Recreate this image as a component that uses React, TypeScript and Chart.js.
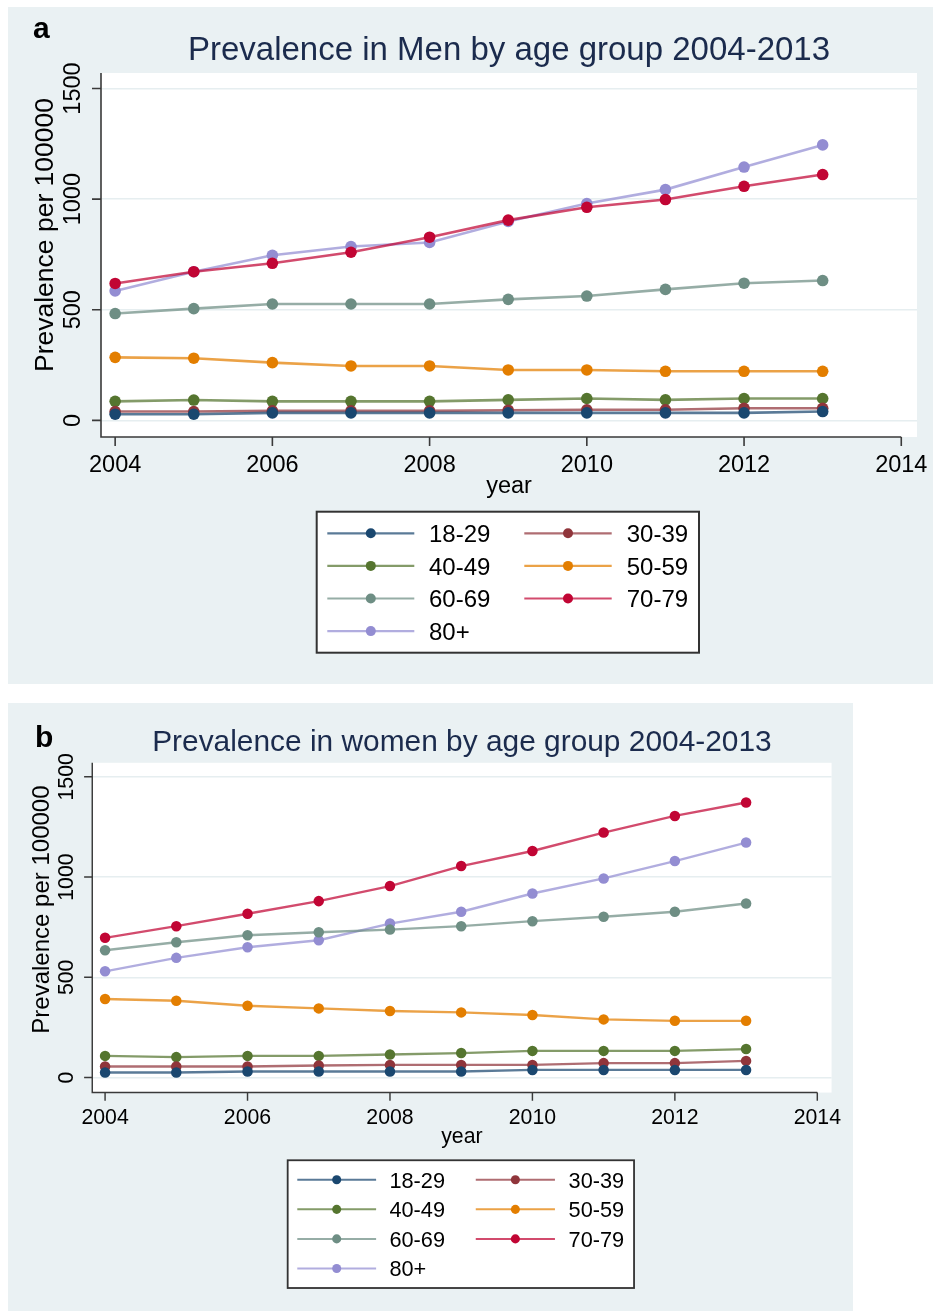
import React, { useEffect, useRef } from 'react';
import { Chart, registerables } from 'chart.js';

Chart.register(...registerables);

// ---------------- data ----------------
const years = [2004, 2005, 2006, 2007, 2008, 2009, 2010, 2011, 2012, 2013];
const ageGroups = ['18-29', '30-39', '40-49', '50-59', '60-69', '70-79', '80+'];
const seriesColors = ['#1a476f', '#90353b', '#55752f', '#e37e00', '#6e8e84', '#c10534', '#938dd2'];

const men18_29 = [28, 28, 34, 34, 34, 34, 34, 34, 34, 40];
const men30_39 = [40, 40, 43, 43, 43, 46, 48, 48, 55, 55];
const men40_49 = [86, 92, 86, 86, 86, 93, 99, 93, 99, 99];
const men50_59 = [285, 281, 261, 246, 246, 228, 228, 222, 222, 222];
const men60_69 = [483, 505, 526, 526, 526, 547, 562, 592, 620, 632];
const men70_79 = [619, 672, 710, 760, 828, 905, 963, 998, 1058, 1111];
const men80plus = [585, 672, 746, 786, 804, 899, 980, 1043, 1145, 1245];

const women18_29 = [25, 25, 30, 30, 30, 30, 38, 38, 38, 38];
const women30_39 = [55, 55, 55, 60, 63, 63, 63, 72, 72, 83];
const women40_49 = [108, 102, 108, 108, 115, 122, 133, 133, 133, 142];
const women50_59 = [392, 383, 358, 345, 332, 325, 312, 290, 283, 283];
const women60_69 = [635, 675, 710, 725, 738, 755, 780, 802, 827, 868];
const women70_79 = [697, 755, 817, 880, 955, 1055, 1130, 1222, 1305, 1372];
const women80plus = [530, 597, 650, 685, 768, 827, 918, 993, 1080, 1172];

const xTickValues = [2004, 2006, 2008, 2010, 2012, 2014];
const xTickLabels = ['2004', '2006', '2008', '2010', '2012', '2014'];
const yTickValues = [0, 500, 1000, 1500];
const yTickLabels = ['0', '500', '1000', '1500'];

const menSeries = [men18_29, men30_39, men40_49, men50_59, men60_69, men70_79, men80plus];
const womenSeries = [women18_29, women30_39, women40_49, women50_59, women60_69, women70_79, women80plus];

// ---------------- styling ----------------
const FONT = '"Liberation Sans", Arial, Helvetica, sans-serif';
const BG = '#eaf1f3';
const GRID = '#e6eef0';
const AXIS = '#3a3a3a';
const TITLE_COLOR = '#1b2b4d';

function rgba(hex: string, a: number) {
  const n = parseInt(hex.slice(1), 16);
  return `rgba(${(n >> 16) & 255},${(n >> 8) & 255},${n & 255},${a})`;
}

function drawText(
  ctx: CanvasRenderingContext2D,
  str: string,
  x: number,
  y: number,
  font: string,
  color: string,
  align: CanvasTextAlign = 'left',
  rot = 0
) {
  ctx.save();
  ctx.translate(x, y);
  if (rot) ctx.rotate(rot);
  ctx.font = font;
  ctx.fillStyle = color;
  ctx.textAlign = align;
  ctx.textBaseline = 'alphabetic';
  ctx.fillText(str, 0, 0);
  ctx.restore();
}

const decor = {
  id: 'stataDecor',
  beforeDraw(chart: any) {
    const { ctx, chartArea } = chart;
    ctx.save();
    ctx.fillStyle = BG;
    ctx.fillRect(0, 0, chart.width, chart.height);
    ctx.fillStyle = '#ffffff';
    ctx.fillRect(chartArea.left, chartArea.top, chartArea.right - chartArea.left, chartArea.bottom - chartArea.top);
    ctx.restore();
  },
  afterDraw(chart: any, _args: any, opts: any) {
    const { ctx, chartArea } = chart;
    const s: number = opts.s;
    const xs = chart.scales.x;
    const ys = chart.scales.y;
    const { left, top, bottom } = chartArea;

    ctx.save();
    // axis lines
    ctx.strokeStyle = AXIS;
    ctx.lineWidth = 1.6 * s;
    ctx.beginPath();
    ctx.moveTo(left, top);
    ctx.lineTo(left, bottom);
    ctx.lineTo(xs.getPixelForValue(xTickValues[xTickValues.length - 1]), bottom);
    ctx.stroke();
    // tick marks
    ctx.beginPath();
    yTickValues.forEach((v) => {
      const py = ys.getPixelForValue(v);
      ctx.moveTo(left - 9 * s, py);
      ctx.lineTo(left, py);
    });
    xTickValues.forEach((v) => {
      const px = xs.getPixelForValue(v);
      ctx.moveTo(px, bottom);
      ctx.lineTo(px, bottom + 9 * s);
    });
    ctx.stroke();
    ctx.restore();

    // tick labels
    const tickFont = `${23.5 * s}px ${FONT}`;
    yTickValues.forEach((v, i) => {
      drawText(ctx, yTickLabels[i], 72 * s, ys.getPixelForValue(v), tickFont, '#000', 'center', -Math.PI / 2);
    });
    xTickValues.forEach((v, i) => {
      drawText(ctx, xTickLabels[i], xs.getPixelForValue(v), 465 * s, tickFont, '#000', 'center');
    });

    // axis titles
    drawText(ctx, 'Prevalence per 100000', 45 * s, 228 * s, `${26.5 * s}px ${FONT}`, '#000', 'center', -Math.PI / 2);
    drawText(ctx, 'year', 501 * s, 486 * s, `${23.5 * s}px ${FONT}`, '#000', 'center');

    // title + panel letter
    drawText(ctx, opts.title, 501 * s, 53 * s, `${33 * s}px ${FONT}`, TITLE_COLOR, 'center');
    drawText(ctx, opts.letter, opts.letterX, opts.letterY, `bold 30px ${FONT}`, '#000', 'left');

    // legend
    const bx = 308.7 * s;
    const by = 504.7 * s;
    const bw = 382.3 * s;
    const bh = 141 * s;
    ctx.save();
    ctx.fillStyle = '#ffffff';
    ctx.fillRect(bx, by, bw, bh);
    ctx.strokeStyle = '#333333';
    ctx.lineWidth = 2 * s;
    ctx.strokeRect(bx, by, bw, bh);
    ctx.restore();
    const cols = [
      { l0: 319.3, l1: 406.3, m: 362.8, t: 421 },
      { l0: 516.3, l1: 603.7, m: 560, t: 618.7 },
    ];
    ageGroups.forEach((g, i) => {
      const c = cols[i % 2];
      const row = Math.floor(i / 2);
      const cy = (526.3 + row * 32.6) * s;
      const col = seriesColors[i];
      ctx.save();
      ctx.strokeStyle = rgba(col, 0.72);
      ctx.lineWidth = 2.2 * s;
      ctx.beginPath();
      ctx.moveTo(c.l0 * s, cy);
      ctx.lineTo(c.l1 * s, cy);
      ctx.stroke();
      ctx.fillStyle = col;
      ctx.beginPath();
      ctx.arc(c.m * s, cy, 5 * s, 0, Math.PI * 2);
      ctx.fill();
      ctx.restore();
      drawText(ctx, g, c.t * s, cy + 8.6 * s, `${24 * s}px ${FONT}`, '#000', 'left');
    });
  },
};

type PanelProps = {
  left: number;
  top: number;
  width: number;
  height: number;
  s: number;
  letter: string;
  letterX: number;
  letterY: number;
  title: string;
  series: number[][];
};

function Panel({ left, top, width, height, s, letter, letterX, letterY, title, series }: PanelProps) {
  const ref = useRef<HTMLCanvasElement>(null);
  useEffect(() => {
    if (!ref.current) return;
    const chart = new Chart(ref.current, {
      type: 'line',
      data: {
        datasets: ageGroups.map((g, i) => ({
          label: g,
          data: years.map((y, j) => ({ x: y, y: series[i][j] })),
          borderColor: rgba(seriesColors[i], 0.72),
          backgroundColor: seriesColors[i],
          pointBackgroundColor: seriesColors[i],
          pointBorderColor: seriesColors[i],
          pointBorderWidth: 0,
          pointRadius: 5.8 * s,
          borderWidth: 2.6 * s,
          tension: 0,
          fill: false,
        })),
      },
      options: {
        responsive: false,
        maintainAspectRatio: false,
        animation: false,
        events: [],
        layout: {
          padding: { left: 93 * s, top: 66 * s, right: width - 909 * s, bottom: height - 430 * s },
        },
        scales: {
          x: {
            type: 'linear',
            min: 2003.82,
            max: 2014.2,
            grid: { display: false },
            border: { display: false },
            ticks: { display: false },
            afterFit: (sc: any) => {
              sc.height = 0;
            },
          },
          y: {
            type: 'linear',
            min: -75,
            max: 1570,
            grid: { color: GRID, lineWidth: 1.6 * s, drawTicks: false },
            border: { display: false },
            ticks: { display: false },
            afterBuildTicks: (sc: any) => {
              sc.ticks = yTickValues.map((v) => ({ value: v }));
            },
            afterFit: (sc: any) => {
              sc.width = 0;
            },
          },
        },
        plugins: {
          legend: { display: false },
          tooltip: { enabled: false },
          stataDecor: { s, letter, letterX, letterY, title },
        } as any,
      },
      plugins: [decor],
    });
    return () => chart.destroy();
  }, []);
  return (
    <div style={{ position: 'absolute', left, top, width, height }}>
      <canvas ref={ref} width={width} height={height} style={{ width, height, display: 'block' }} />
    </div>
  );
}

export default function App() {
  return (
    <div style={{ position: 'absolute', left: 0, top: 0, width: 933, height: 1311, background: '#fff' }}>
      <Panel
        left={8}
        top={7}
        width={925}
        height={677}
        s={1}
        letter="a"
        letterX={25}
        letterY={31}
        title="Prevalence in Men by age group 2004-2013"
        series={menSeries}
      />
      <Panel
        left={8}
        top={703}
        width={845}
        height={608}
        s={0.906}
        letter="b"
        letterX={27}
        letterY={44}
        title="Prevalence in women by age group 2004-2013"
        series={womenSeries}
      />
    </div>
  );
}
